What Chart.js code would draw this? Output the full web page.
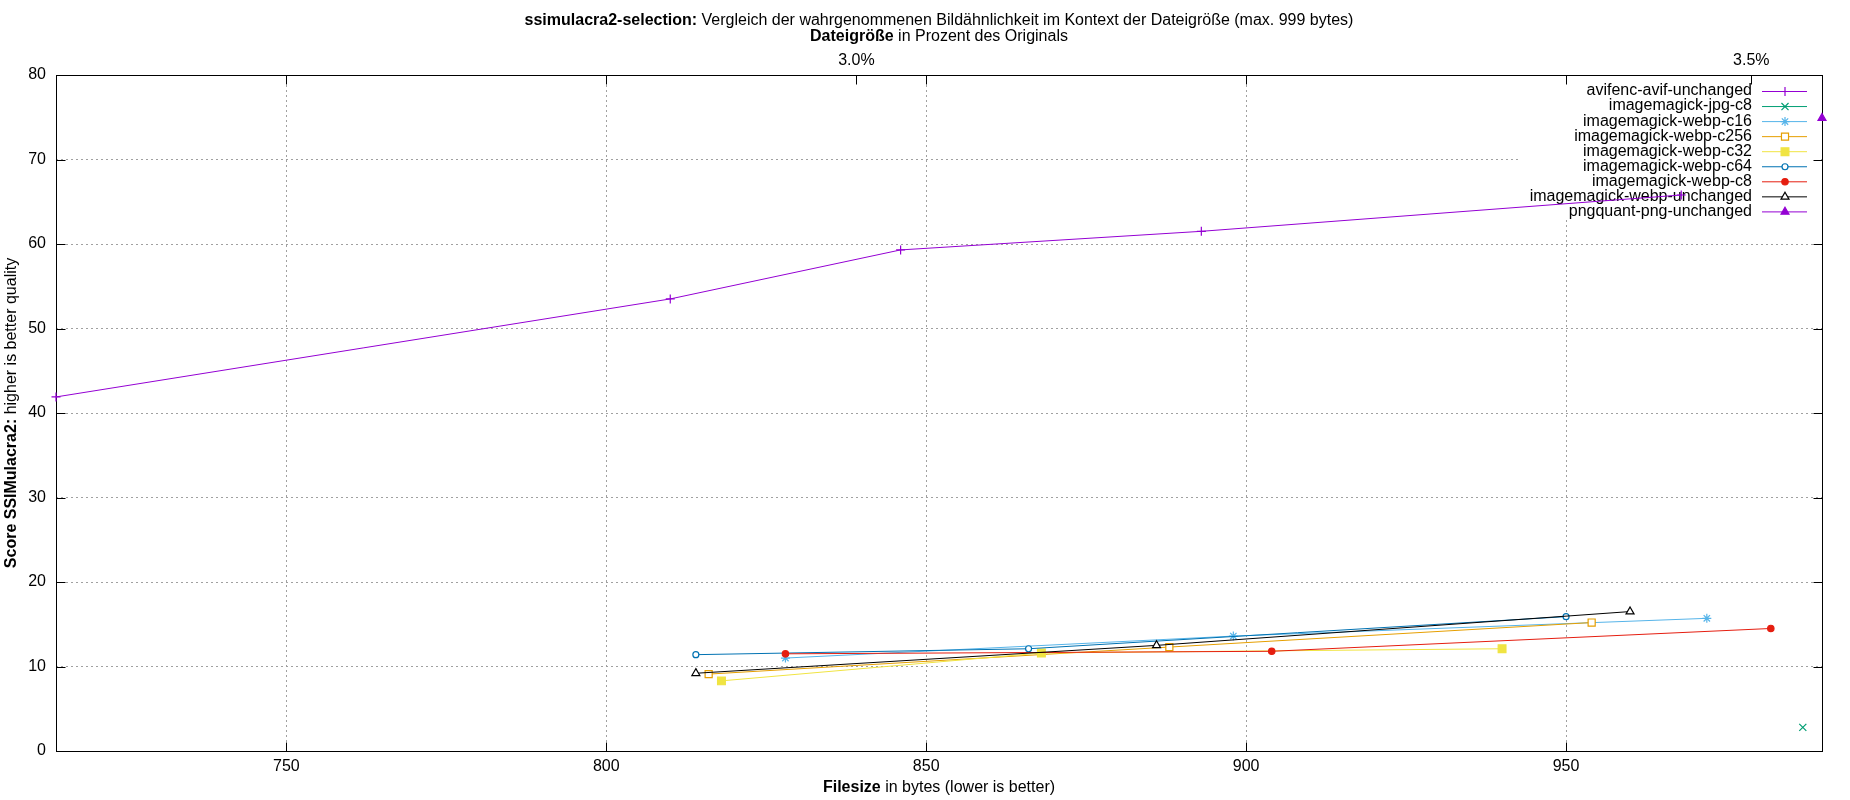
<!DOCTYPE html>
<html>
<head>
<meta charset="utf-8">
<title>ssimulacra2-selection</title>
<script src="https://cdn.jsdelivr.net/npm/chart.js@4.4.1/dist/chart.umd.min.js"></script>
<style>
  html, body { margin: 0; padding: 0; background: #fff; }
  #wrap { width: 1850px; height: 800px; position: relative; }
</style>
</head>
<body>
<div id="wrap"><canvas id="chart"></canvas></div>
<script>
// values
const ORIGINAL_BYTES = 27970;
const X_MIN = 714;
const X_MAX = 990;

const seriesNames = [
  "avifenc-avif-unchanged",
  "imagemagick-jpg-c8",
  "imagemagick-webp-c16",
  "imagemagick-webp-c256",
  "imagemagick-webp-c32",
  "imagemagick-webp-c64",
  "imagemagick-webp-c8",
  "imagemagick-webp-unchanged",
  "pngquant-png-unchanged",
];

const avifSize = [714, 810, 846, 893, 968];
const avifScore = [41.9, 53.5, 59.3, 61.5, 65.8];
const jpgC8Size = [987];
const jpgC8Score = [2.8];
const webpC16Size = [828, 898, 972];
const webpC16Score = [11.0, 13.6, 15.7];
const webpC256Size = [816, 888, 954];
const webpC256Score = [9.1, 12.3, 15.2];
const webpC32Size = [818, 868, 940];
const webpC32Score = [8.3, 11.6, 12.1];
const webpC64Size = [814, 866, 950];
const webpC64Score = [11.4, 12.1, 15.9];
const webpC8Size = [828, 904, 982];
const webpC8Score = [11.5, 11.8, 14.5];
const webpUnchangedSize = [814, 886, 960];
const webpUnchangedScore = [9.2, 12.5, 16.5];
const pngquantSize = [990];
const pngquantScore = [74.9];

const xTickValues = [750, 800, 850, 900, 950];
const yTickValues = [0, 10, 20, 30, 40, 50, 60, 70, 80];
const x2TickValues = [3.0, 3.5];

const sizes = [avifSize, jpgC8Size, webpC16Size, webpC256Size, webpC32Size,
  webpC64Size, webpC8Size, webpUnchangedSize, pngquantSize];
const scores = [avifScore, jpgC8Score, webpC16Score, webpC256Score, webpC32Score,
  webpC64Score, webpC8Score, webpUnchangedScore, pngquantScore];

// gnuplot default line types
const styles = [
  { color: "#9400d3", point: "cross", radius: 4.5, filled: true },
  { color: "#009e73", point: "crossRot", radius: 5, filled: true },
  { color: "#56b4e9", point: "star", radius: 4.5, filled: true },
  { color: "#e69f00", point: "rect", radius: 5, filled: false },
  { color: "#f0e442", point: "rect", radius: 5.5, filled: true },
  { color: "#0072b2", point: "circle", radius: 3, filled: false },
  { color: "#e51e10", point: "circle", radius: 3.2, filled: true },
  { color: "#000000", point: "triangle", radius: 4.6, filled: false },
  { color: "#9400d3", point: "triangle", radius: 4.6, filled: true },
];

const FONT = '"Liberation Sans", Arial, sans-serif';
Chart.defaults.font.family = FONT;
Chart.defaults.font.size = 16;
Chart.defaults.color = "#000";

const datasets = seriesNames.map((name, i) => ({
  label: name,
  data: sizes[i].map((x, j) => ({ x: x, y: scores[i][j] })),
  borderColor: styles[i].color,
  backgroundColor: styles[i].color,
  borderWidth: 1,
  pointStyle: styles[i].point,
  pointRadius: styles[i].radius,
  pointBorderWidth: 1.2,
  pointBorderColor: styles[i].color,
  pointBackgroundColor: styles[i].filled ? styles[i].color : "#fff",
  tension: 0,
  fill: false,
  clip: false,
  order: -i,
}));

function drawMixed(ctx, parts, cx, cy) {
  let total = 0;
  parts.forEach((p) => {
    ctx.font = (p.bold ? "bold " : "") + "16px " + FONT;
    p.w = ctx.measureText(p.text).width;
    total += p.w;
  });
  let x = cx - total / 2;
  ctx.textAlign = "left";
  ctx.textBaseline = "middle";
  ctx.fillStyle = "#000";
  parts.forEach((p) => {
    ctx.font = (p.bold ? "bold " : "") + "16px " + FONT;
    ctx.fillText(p.text, x, cy);
    x += p.w;
  });
}

const gnuplotLook = {
  id: "gnuplotLook",
  beforeDatasetsDraw(chart) {
    const ctx = chart.ctx;
    const a = chart.chartArea;
    const xs = chart.scales.x;
    const ys = chart.scales.y;
    const x2 = chart.scales.x2;
    ctx.save();

    // key box (opaque)
    ctx.fillStyle = "#fff";
    ctx.fillRect(1520, a.top + 1, a.right - 1520 - 1, 143);

    ctx.font = "16px " + FONT;
    ctx.textAlign = "right";
    ctx.textBaseline = "middle";
    chart.data.datasets.forEach((ds, i) => {
      const y = 91 + i * 15.05;
      ctx.fillStyle = "#000";
      ctx.fillText(ds.label, 1752, y);
      ctx.strokeStyle = ds.borderColor;
      ctx.lineWidth = 1;
      ctx.beginPath();
      ctx.moveTo(1762, y + 0.5);
      ctx.lineTo(1807, y + 0.5);
      ctx.stroke();
      ctx.fillStyle = ds.pointBackgroundColor;
      ctx.strokeStyle = ds.pointBorderColor;
      ctx.lineWidth = ds.pointBorderWidth;
      Chart.helpers.drawPoint(ctx, {
        pointStyle: ds.pointStyle,
        radius: ds.pointRadius,
        borderWidth: ds.pointBorderWidth,
        rotation: 0,
      }, 1785, y + 0.5);
    });

    // frame and inward ticks
    ctx.strokeStyle = "#000";
    ctx.lineWidth = 1;
    const L = Math.round(a.left) + 0.5, R = Math.round(a.right) + 0.5;
    const T = Math.round(a.top) + 0.5, B = Math.round(a.bottom) + 0.5;
    ctx.strokeRect(L, T, R - L, B - T);
    ctx.beginPath();
    xTickValues.forEach((v) => {
      const px = Math.round(xs.getPixelForValue(v)) + 0.5;
      ctx.moveTo(px, B); ctx.lineTo(px, B - 9);
      ctx.moveTo(px, T); ctx.lineTo(px, T + 9);
    });
    x2TickValues.forEach((v) => {
      const px = Math.round(x2.getPixelForValue(v)) + 0.5;
      ctx.moveTo(px, T); ctx.lineTo(px, T + 9);
    });
    yTickValues.forEach((v) => {
      const py = Math.round(ys.getPixelForValue(v)) + 0.5;
      ctx.moveTo(L, py); ctx.lineTo(L + 9, py);
      ctx.moveTo(R, py); ctx.lineTo(R - 9, py);
    });
    ctx.stroke();
    ctx.restore();
  },
  afterDraw(chart) {
    const ctx = chart.ctx;
    const a = chart.chartArea;
    const cx = (a.left + a.right) / 2;
    ctx.save();
    drawMixed(ctx, [
      { text: "ssimulacra2-selection:", bold: true },
      { text: " Vergleich der wahrgenommenen Bildähnlichkeit im Kontext der Dateigröße (max. 999 bytes)" },
    ], cx, 21);
    drawMixed(ctx, [
      { text: "Dateigröße", bold: true },
      { text: " in Prozent des Originals" },
    ], cx, 37);
    drawMixed(ctx, [
      { text: "Filesize", bold: true },
      { text: " in bytes (lower is better)" },
    ], cx, 788);
    ctx.translate(12, (a.top + a.bottom) / 2);
    ctx.rotate(-Math.PI / 2);
    drawMixed(ctx, [
      { text: "Score SSIMulacra2:", bold: true },
      { text: " higher is better quality" },
    ], 0, 0);
    ctx.restore();
  },
};

const gridOpts = { color: "#a0a0a0", lineWidth: 1, drawTicks: false };
const borderOpts = { display: false, dash: [2, 3] };

new Chart(document.getElementById("chart"), {
  type: "line",
  data: { datasets: datasets },
  options: {
    responsive: true,
    maintainAspectRatio: false,
    animation: false,
    events: [],
    layout: { padding: { left: 0, right: 28, top: 0, bottom: 0 } },
    scales: {
      x: {
        type: "linear",
        position: "bottom",
        min: X_MIN,
        max: X_MAX,
        grid: gridOpts,
        border: borderOpts,
        ticks: { padding: 6, maxRotation: 0 },
        afterBuildTicks: (s) => { s.ticks = xTickValues.map((v) => ({ value: v })); },
        afterFit: (s) => { s.height = 49; },
      },
      x2: {
        type: "linear",
        position: "top",
        min: X_MIN / ORIGINAL_BYTES * 100,
        max: X_MAX / ORIGINAL_BYTES * 100,
        grid: { display: false, drawTicks: false },
        border: { display: false },
        ticks: { padding: 5, maxRotation: 0, callback: (v) => v.toFixed(1) + "%" },
        afterBuildTicks: (s) => { s.ticks = x2TickValues.map((v) => ({ value: v })); },
        afterFit: (s) => { s.height = 75; },
      },
      y: {
        type: "linear",
        position: "left",
        min: 0,
        max: 80,
        grid: gridOpts,
        border: borderOpts,
        ticks: { padding: 10 },
        afterBuildTicks: (s) => { s.ticks = yTickValues.map((v) => ({ value: v })); },
        afterFit: (s) => { s.width = 56; },
      },
    },
    plugins: {
      legend: { display: false },
      tooltip: { enabled: false },
      title: { display: false },
    },
  },
  plugins: [gnuplotLook],
});
</script>
</body>
</html>
